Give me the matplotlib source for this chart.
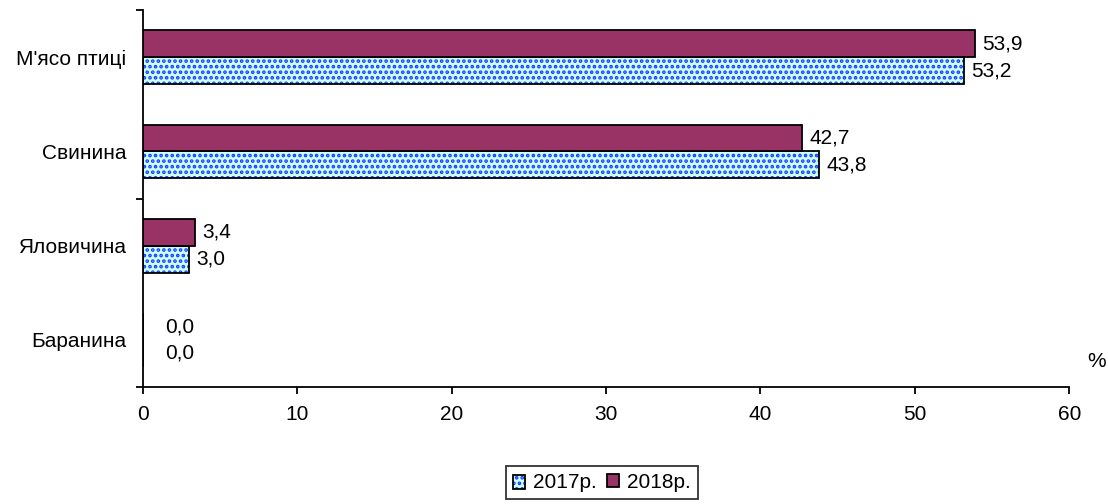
import matplotlib.pyplot as plt
from matplotlib.patches import Patch, Rectangle
from matplotlib.legend_handler import HandlerBase

plt.rcParams['font.family'] = ['Liberation Sans', 'DejaVu Sans']
plt.rcParams['hatch.linewidth'] = 1.8

categories = ["М'ясо птиці", "Свинина", "Яловичина", "Баранина"]
values_2017 = [53.2, 43.8, 3.0, 0.0]
values_2018 = [53.9, 42.7, 3.4, 0.0]
series_labels = ["2017р.", "2018р."]
x_ticks = [0, 10, 20, 30, 40, 50, 60]

color_2018 = '#993366'
fill_2017 = '#CCFFFF'
hatch_2017 = '#1a3cff'
FS = 15

fig = plt.figure(figsize=(11.08, 5.04), dpi=100)
ax = fig.add_axes([0.129, 0.232, 0.836, 0.748])

n = len(categories)
ypos = [n - 1 - i for i in range(n)]
h = 0.285

# 2017 bars: hatched layer + black outline layer
ax.barh([y - h / 2 for y in ypos], values_2017, height=h, color=fill_2017,
        edgecolor=hatch_2017, hatch='...', linewidth=0, zorder=2)
ax.barh([y - h / 2 for y in ypos], values_2017, height=h, facecolor='none',
        edgecolor='black', linewidth=1.3, zorder=3)
ax.barh([y + h / 2 for y in ypos], values_2018, height=h, color=color_2018,
        edgecolor='black', linewidth=1.3, zorder=3)

def fmt(v):
    return f"{v:.1f}".replace('.', ',')

for y, v17, v18 in zip(ypos, values_2017, values_2018):
    off17 = 16 if v17 == 0 else 5
    off18 = 16 if v18 == 0 else 5
    ax.annotate(fmt(v17), (v17, y - h / 2), xytext=(off17, 0), textcoords='offset points',
                va='center', ha='left', fontsize=FS)
    ax.annotate(fmt(v18), (v18, y + h / 2), xytext=(off18, 0), textcoords='offset points',
                va='center', ha='left', fontsize=FS)

ax.set_xlim(0, 60)
ax.set_ylim(-0.5, n - 0.5)
ax.set_xticks(x_ticks)
ax.set_xticklabels([str(t) for t in x_ticks], fontsize=FS)
ax.tick_params(axis='x', direction='out', length=5, width=1.3, pad=8)

ax.set_yticks(ypos)
ax.set_yticklabels(categories, fontsize=FS)
ax.tick_params(axis='y', which='major', length=0, pad=12)
ax.set_yticks([-0.5, 1.5, 3.5], minor=True)
ax.tick_params(axis='y', which='minor', direction='out', length=5, width=1.3)

for s in ['top', 'right']:
    ax.spines[s].set_visible(False)
for s in ['left', 'bottom']:
    ax.spines[s].set_linewidth(1.3)

fig.text(0.990, 0.282, '%', fontsize=FS, ha='center', va='center')


class HatchSquare(HandlerBase):
    def create_artists(self, legend, orig, xd, yd, w, hgt, fontsize, trans):
        r1 = Rectangle((xd, yd), w, hgt, facecolor=fill_2017, edgecolor=hatch_2017,
                       hatch='...', linewidth=0, transform=trans)
        r2 = Rectangle((xd, yd), w, hgt, facecolor='none', edgecolor='black',
                       linewidth=1.3, transform=trans)
        return [r1, r2]


h17 = Patch(label=series_labels[0])
h18 = Patch(facecolor=color_2018, edgecolor='black', linewidth=1.3, label=series_labels[1])
leg = fig.legend([h17, h18], series_labels, loc='center', bbox_to_anchor=(0.543, 0.043),
                 ncol=2, fontsize=FS, frameon=True, fancybox=False, edgecolor='black',
                 handlelength=0.6, handleheight=0.6, handletextpad=0.35, columnspacing=0.5,
                 borderpad=0.35, handler_map={h17: HatchSquare()})
leg.get_frame().set_linewidth(1.3)

fig.savefig('out.png', dpi=100)
